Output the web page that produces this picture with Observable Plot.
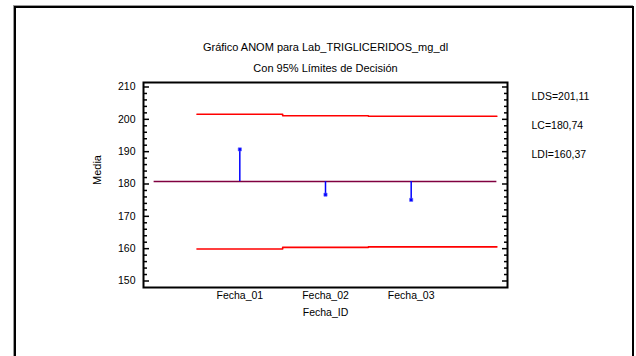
<!DOCTYPE html>
<html>
<head>
<meta charset="utf-8">
<script src="https://cdn.jsdelivr.net/npm/d3@7"></script>
<script src="https://cdn.jsdelivr.net/npm/@observablehq/plot@0.6"></script>
<style>
  html, body { margin: 0; padding: 0; background: #fff; overflow: hidden; }
  #wrap { position: relative; width: 636px; height: 356px; overflow: hidden; }
  #border { position: absolute; left: 14px; top: 6px; width: 616px; height: 400px; border: 2px solid #000; box-shadow: -1px -1px 0 #999; }
  #chart { position: absolute; left: 0; top: 0; }
</style>
</head>
<body>
<div id="wrap"><div id="border"></div><div id="chart"></div></div>
<script>
const categories = ["Fecha_01", "Fecha_02", "Fecha_03"];
const means = [190.7, 176.7, 175.1];
const ucl = [201.59, 201.09, 200.94];
const lcl = [159.89, 160.39, 160.54];
const centerLine = 180.74;
const yMajorTicks = [150, 160, 170, 180, 190, 200, 210];
const yMinorTicks = [152, 154, 156, 158, 162, 164, 166, 168, 172, 174, 176, 178, 182, 184, 186, 188, 192, 194, 196, 198, 202, 204, 206, 208];
const limitLabels = ["LDS=201,11", "LC=180,74", "LDI=160,37"];
const titleText = "Gráfico ANOM para Lab_TRIGLICERIDOS_mg_dl";
const subtitleText = "Con 95% Límites de Decisión";
const xLabel = "Fecha_ID";
const yLabel = "Media";

const W = 636, H = 356;
const mL = 143, mR = 129, mT = 82, mB = 69;
const plotW = W - mL - mR;
const n = categories.length;
const xDomain = [2 - 2.124, 2 + 2.124];
const unitsPerPx = (xDomain[1] - xDomain[0]) / plotW;

const groups = categories.map((c, i) => ({cat: c, pos: i + 1, mean: means[i], ucl: ucl[i], lcl: lcl[i]}));
const stepU = [...groups.map(g => ({x: g.pos - 0.5, y: g.ucl})), {x: n + 1, y: ucl[n - 1]}];
const stepL = [...groups.map(g => ({x: g.pos - 0.5, y: g.lcl})), {x: n + 1, y: lcl[n - 1]}];
const majorRows = yMajorTicks.map(v => ({v}));
const minorRows = yMinorTicks.map(v => ({v}));

const font = "'Liberation Sans', Arial, sans-serif";

function axisTicks(rows, lenPx) {
  const len = lenPx * unitsPerPx;
  return [
    Plot.link(rows, {y1: "v", y2: "v", x1: () => xDomain[0], x2: () => xDomain[0] + len, stroke: "#000", strokeWidth: 1.5}),
    Plot.link(rows, {y1: "v", y2: "v", x1: () => xDomain[1] - len, x2: () => xDomain[1], stroke: "#000", strokeWidth: 1.5})
  ];
}

const chart = Plot.plot({
  width: W, height: H,
  marginLeft: mL, marginRight: mR, marginTop: mT, marginBottom: mB,
  style: {fontFamily: font, background: "transparent", color: "#000"},
  x: {type: "linear", domain: xDomain, label: null},
  y: {domain: [147.99, 211.39], label: null},
  marks: [
    Plot.ruleY([centerLine], {x1: 0, x2: n + 1, stroke: "#800040", strokeWidth: 1.5}),
    Plot.line(stepU, {x: "x", y: "y", curve: "step-after", stroke: "#ff0000", strokeWidth: 1.6}),
    Plot.line(stepL, {x: "x", y: "y", curve: "step-after", stroke: "#ff0000", strokeWidth: 1.6}),
    Plot.ruleX(groups, {x: "pos", y1: centerLine, y2: "mean", stroke: "#0000ff", strokeWidth: 1.5}),
    Plot.dot(groups, {x: "pos", y: "mean", symbol: "square", r: 1.8, fill: "#0000ff", stroke: "#6060ff", strokeWidth: 0.6}),
    ...axisTicks(majorRows, 5.5),
    ...axisTicks(minorRows, 3.5),
    Plot.frame({stroke: "#000", strokeWidth: 2}),
    Plot.axisY({ticks: yMajorTicks, tickSize: 0, tickPadding: 8, fontSize: 10.5, label: null, tickFormat: d => String(d)}),
    Plot.axisX({ticks: groups.map(g => g.pos), tickFormat: p => categories[p - 1], tickSize: 0, tickPadding: 4, fontSize: 10.5, label: null}),
    Plot.text([xLabel], {frameAnchor: "bottom", dy: 25, lineAnchor: "middle", fontSize: 10.5}),
    Plot.text([yLabel], {frameAnchor: "left", dx: -46.5, rotate: -90, lineAnchor: "middle", fontSize: 11}),
    Plot.text([titleText], {frameAnchor: "top", dy: -35.3, lineAnchor: "middle", fontSize: 11}),
    Plot.text([subtitleText], {frameAnchor: "top", dy: -14, lineAnchor: "middle", fontSize: 11}),
    Plot.text([limitLabels[0]], {frameAnchor: "top-right", dx: 24, dy: 14, textAnchor: "start", lineAnchor: "middle", fontSize: 10.5}),
    Plot.text([limitLabels[1]], {frameAnchor: "top-right", dx: 24, dy: 43, textAnchor: "start", lineAnchor: "middle", fontSize: 10.5}),
    Plot.text([limitLabels[2]], {frameAnchor: "top-right", dx: 24, dy: 72, textAnchor: "start", lineAnchor: "middle", fontSize: 10.5})
  ]
});
document.getElementById("chart").appendChild(chart);
</script>
</body>
</html>
